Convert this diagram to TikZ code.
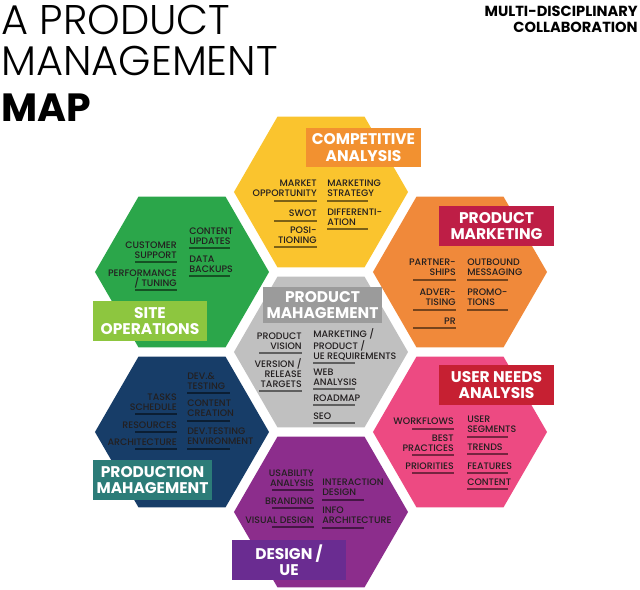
\documentclass[tikz,border=0pt]{standalone}
\usepackage{fontspec}
\setmainfont{Poppins}
\newfontfamily\lightfont{Poppins Light}
\newfontfamily\itemfont{Poppins Medium}
\usetikzlibrary{shapes.geometric}

\definecolor{ink}{RGB}{35,31,32}
\definecolor{hexyellow}{RGB}{250,196,46}
\definecolor{hexorange}{RGB}{240,137,58}
\definecolor{hexgreen}{RGB}{43,166,74}
\definecolor{hexgray}{RGB}{192,192,192}
\definecolor{hexpink}{RGB}{237,74,130}
\definecolor{hexnavy}{RGB}{23,61,104}
\definecolor{hexpurple}{RGB}{140,45,140}
\definecolor{boxorange}{RGB}{242,145,48}
\definecolor{boxcrimson}{RGB}{190,30,70}
\definecolor{boxlime}{RGB}{141,198,63}
\definecolor{boxgray}{RGB}{155,155,155}
\definecolor{boxred}{RGB}{198,32,50}
\definecolor{boxteal}{RGB}{44,124,120}
\definecolor{boxviolet}{RGB}{106,44,145}

\begin{document}
\begin{tikzpicture}[
  x=0.025cm,y=-0.025cm,
  hex/.style={regular polygon,regular polygon sides=6,minimum size=4.35cm,inner sep=0pt},
  headbox/.style={minimum width=2.85cm,minimum height=0.98cm,inner sep=0pt,align=center,
    text=white,font=\fontsize{11}{11.7}\selectfont\bfseries},
  lft/.style={anchor=base east,align=right,inner sep=0pt,text=ink,
    font=\itemfont\fontsize{6.7}{7.1}\selectfont},
  rgt/.style={anchor=base west,align=left,inner sep=0pt,text=ink,
    font=\itemfont\fontsize{6.7}{7.1}\selectfont},
  uline/.style={line width=0.8pt,draw=black,draw opacity=0.5}
]
  \fill[white] (0,0) rectangle (640,590);
  \useasboundingbox (0,0) rectangle (640,590);

  \node[anchor=base west,inner sep=0pt,font=\lightfont\fontsize{29.5}{29.5}\selectfont] (title-a) at (1,35) {A PRODUCT};
  \node[anchor=base west,inner sep=0pt,font=\lightfont\fontsize{29.5}{29.5}\selectfont] (title-b) at (1,76) {MANAGEMENT};
  \node[anchor=base west,inner sep=0pt,font=\fontsize{28}{28}\selectfont\bfseries] (title-c) at (1,122) {MAP};
  \node[anchor=base east,align=right,inner sep=0pt,font=\fontsize{10.4}{11.4}\selectfont\bfseries] (subtitle) at (638,33)
    {MULTI-DISCIPLINARY\\COLLABORATION};

  \node[hex,fill=hexyellow] (competitive) at (321,192) {};
  \node[hex,fill=hexorange] (marketing) at (460,272) {};
  \node[hex,fill=hexgreen] (site) at (182,272) {};
  \node[hex,fill=hexgray] (product) at (321,352) {};
  \node[hex,fill=hexpink] (user-needs) at (460,432) {};
  \node[hex,fill=hexnavy] (production) at (182,432) {};
  \node[hex,fill=hexpurple] (design) at (321,512) {};

  \node[headbox,fill=boxorange] (competitive-tag) at (363.5,147.5) {COMPETITIVE\\ANALYSIS};
  \node[headbox,fill=boxcrimson] (marketing-tag) at (496.5,226) {PRODUCT\\MARKETING};
  \node[headbox,fill=boxlime] (site-tag) at (150,321) {SITE\\OPERATIONS};
  \node[headbox,fill=boxgray,minimum width=2.98cm,minimum height=0.9cm] (product-tag) at (322.5,305) {PRODUCT\\MAHAGEMENT};
  \node[headbox,fill=boxred] (user-needs-tag) at (496.5,385) {USER NEEDS\\ANALYSIS};
  \node[headbox,fill=boxteal,minimum width=2.98cm] (production-tag) at (152.5,480) {PRODUCTION\\MAHAGEMENT};
  \node[headbox,fill=boxviolet] (design-tag) at (289,560) {DESIGN /\\UE};

  \node[lft] (opportunity) at (317,196.5) {MARKET\\OPPORTUNITY};
  \node[lft] (swot) at (317,216.5) {SWOT};
  \node[lft] (positioning) at (317,243.5) {POSI-\\TIONING};
  \node[rgt] (strategy) at (327,196.5) {MARKETING\\STRATEGY};
  \node[rgt] (differentiation) at (327,225.5) {DIFFERENTI-\\ATION};
  \draw[uline] (274,201) -- (317,201) (274,221) -- (317,221) (274,247) -- (317,247);
  \draw[uline] (327,201) -- (368,201) (327,229) -- (368,229);

  \node[lft] (partnerships) at (456,275.5) {PARTNER-\\SHIPS};
  \node[lft] (advertising) at (456,305.5) {ADVER-\\TISING};
  \node[lft] (pr) at (456,324.5) {PR};
  \node[rgt] (outbound) at (467,275.5) {OUTBOUND\\MESSAGING};
  \node[rgt] (promotions) at (467,305.5) {PROMO-\\TIONS};
  \draw[uline] (413,280) -- (456,280) (413,310) -- (456,310) (413,328) -- (456,328);
  \draw[uline] (467,280) -- (508,280) (467,310) -- (508,310);

  \node[lft] (support) at (177,258.5) {CUSTOMER\\SUPPORT};
  \node[lft] (tuning) at (177,286.5) {PERFORMANCE\\/ TUNING};
  \node[rgt] (updates) at (189,244.5) {CONTENT\\UPDATES};
  \node[rgt] (backups) at (189,272.5) {DATA\\BACKUPS};
  \draw[uline] (135,262) -- (177,262) (135,290) -- (177,290);
  \draw[uline] (189,248) -- (230,248) (189,276) -- (230,276);

  \node[lft] (vision) at (302,349.5) {PRODUCT\\VISION};
  \node[lft] (targets) at (302,387.5) {VERSION /\\RELEASE\\TARGETS};
  \node[rgt] (requirements) at (313,359.5) {MARKETING /\\PRODUCT /\\UE REQUIREMENTS};
  \node[rgt] (web) at (313,385.5) {WEB\\ANALYSIS};
  \node[rgt] (roadmap) at (313,401.5) {ROADMAP};
  \node[rgt] (seo) at (313,419.5) {SEO};
  \draw[uline] (259,353) -- (302,353) (259,391) -- (302,391);
  \draw[uline] (313,363) -- (355,363) (313,389) -- (355,389) (313,405) -- (355,405) (313,423) -- (355,423);

  \node[lft] (workflows) at (454,424.5) {WORKFLOWS};
  \node[lft] (practices) at (454,451.5) {BEST\\PRACTICES};
  \node[lft] (priorities) at (454,469.5) {PRIORITIES};
  \node[rgt] (segments) at (467,432.5) {USER\\SEGMENTS};
  \node[rgt] (trends) at (467,450.5) {TRENDS};
  \node[rgt] (features) at (467,469.5) {FEATURES};
  \node[rgt] (content) at (467,485.5) {CONTENT};
  \draw[uline] (412,429) -- (454,429) (412,455) -- (454,455) (412,473) -- (454,473);
  \draw[uline] (467,437) -- (508,437) (467,454) -- (508,454) (467,473) -- (508,473) (467,489) -- (508,489);

  \node[lft] (schedule) at (177,410.5) {TASKS\\SCHEDULE};
  \node[lft] (resources) at (177,428.5) {RESOURCES};
  \node[lft] (architecture) at (177,445.5) {ARCHITECTURE};
  \node[rgt] (testing) at (187,389.5) {DEV.\&\\TESTING};
  \node[rgt] (creation) at (187,416.5) {CONTENT\\CREATION};
  \node[rgt] (environment) at (187,444.5) {DEV.TESTING\\ENVIRONMENT};
  \draw[uline] (135,414) -- (177,414) (135,432) -- (177,432) (135,449) -- (177,449);
  \draw[uline] (187,393) -- (230,393) (187,421) -- (230,421) (187,449) -- (230,449);

  \node[lft] (usability) at (314,486.5) {USABILITY\\ANALYSIS};
  \node[lft] (branding) at (314,504.5) {BRANDING};
  \node[lft] (visual) at (314,523.5) {VISUAL DESIGN};
  \node[rgt] (interaction) at (322,495.5) {INTERACTION\\DESIGN};
  \node[rgt] (info) at (322,523.5) {INFO\\ARCHITECTURE};
  \draw[uline] (272,490) -- (314,490) (272,508) -- (314,508) (272,527) -- (314,527);
  \draw[uline] (322,500) -- (364,500) (322,528) -- (364,528);
\end{tikzpicture}
\end{document}
